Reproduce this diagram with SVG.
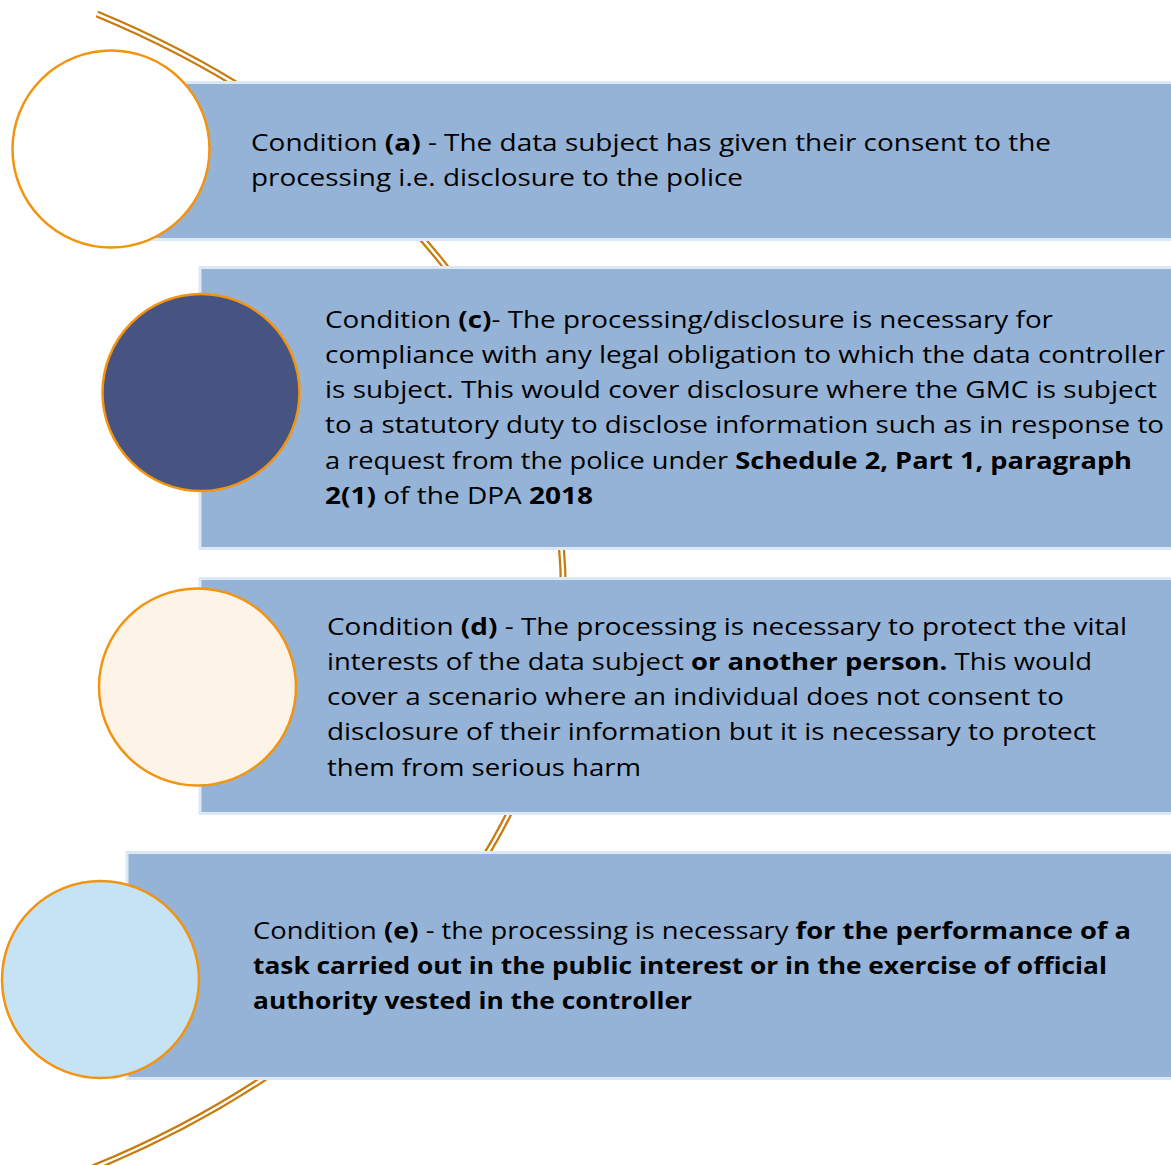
<svg xmlns="http://www.w3.org/2000/svg" width="1171" height="1165" viewBox="0 0 1171 1165">
<style>
.box{fill:#95B3D7;stroke:#DCE9F5;stroke-width:3}
.circ{stroke:#F29410;stroke-width:2.5}
.t{font-family:"Open Sans","Noto Sans","Liberation Sans",sans-serif;font-size:23px;fill:#000}
.b{font-weight:bold}
</style>
<rect width="1171" height="1165" fill="#fff"/>
<g id="connectors">
<path d="M97,14 A940,667 0 0 1 62,1180" fill="none" stroke="#C77B0F" stroke-width="7"/>
<path d="M97,14 A940,667 0 0 1 62,1180" fill="none" stroke="#fff" stroke-width="2.5"/>
</g>
<g id="node-a">
<rect class="box" x="111" y="82.5" width="1065" height="157"/>
<circle class="circ" cx="111" cy="149" r="98.5" fill="#fff"/>
<text class="t" x="251" y="151" textLength="800" lengthAdjust="spacingAndGlyphs">Condition <tspan class="b">(a)</tspan> - The data subject has given their consent to the</text>
<text class="t" x="251" y="186" textLength="492" lengthAdjust="spacingAndGlyphs">processing i.e. disclosure to the police</text>
</g>
<g id="node-c">
<rect class="box" x="200" y="267.5" width="976" height="281"/>
<circle class="circ" cx="201" cy="392.5" r="98.5" fill="#475380"/>
<text class="t" x="325" y="328" textLength="728" lengthAdjust="spacingAndGlyphs">Condition <tspan class="b">(c)</tspan>- The processing/disclosure is necessary for</text>
<text class="t" x="325" y="363" textLength="840" lengthAdjust="spacingAndGlyphs">compliance with any legal obligation to which the data controller</text>
<text class="t" x="325" y="398" textLength="832" lengthAdjust="spacingAndGlyphs">is subject. This would cover disclosure where the GMC is subject</text>
<text class="t" x="325" y="433" textLength="839" lengthAdjust="spacingAndGlyphs">to a statutory duty to disclose information such as in response to</text>
<text class="t" x="325" y="469" textLength="807" lengthAdjust="spacingAndGlyphs">a request from the police under <tspan class="b">Schedule 2, Part 1, paragraph</tspan></text>
<text class="t" x="325" y="504" textLength="268" lengthAdjust="spacingAndGlyphs"><tspan class="b">2(1)</tspan> of the DPA <tspan class="b">2018</tspan></text>
</g>
<g id="node-d">
<rect class="box" x="200" y="578.5" width="976" height="235"/>
<circle class="circ" cx="197.5" cy="687" r="98.5" fill="#FDF3E7"/>
<text class="t" x="327" y="635" textLength="800" lengthAdjust="spacingAndGlyphs">Condition <tspan class="b">(d)</tspan> - The processing is necessary to protect the vital</text>
<text class="t" x="327" y="670" textLength="765" lengthAdjust="spacingAndGlyphs">interests of the data subject <tspan class="b">or another person.</tspan> This would</text>
<text class="t" x="327" y="705" textLength="737" lengthAdjust="spacingAndGlyphs">cover a scenario where an individual does not consent to</text>
<text class="t" x="327" y="740" textLength="769" lengthAdjust="spacingAndGlyphs">disclosure of their information but it is necessary to protect</text>
<text class="t" x="327" y="776" textLength="314" lengthAdjust="spacingAndGlyphs">them from serious harm</text>
</g>
<g id="node-e">
<rect class="box" x="127" y="852.5" width="1049" height="226"/>
<circle class="circ" cx="100.5" cy="979.5" r="98.5" fill="#C6E2F5"/>
<text class="t" x="253" y="939" textLength="878" lengthAdjust="spacingAndGlyphs">Condition <tspan class="b">(e)</tspan> - the processing is necessary <tspan class="b">for the performance of a</tspan></text>
<text class="t b" x="253" y="974" textLength="854" lengthAdjust="spacingAndGlyphs">task carried out in the public interest or in the exercise of official</text>
<text class="t b" x="253" y="1009" textLength="439" lengthAdjust="spacingAndGlyphs">authority vested in the controller</text>
</g>
</svg>
